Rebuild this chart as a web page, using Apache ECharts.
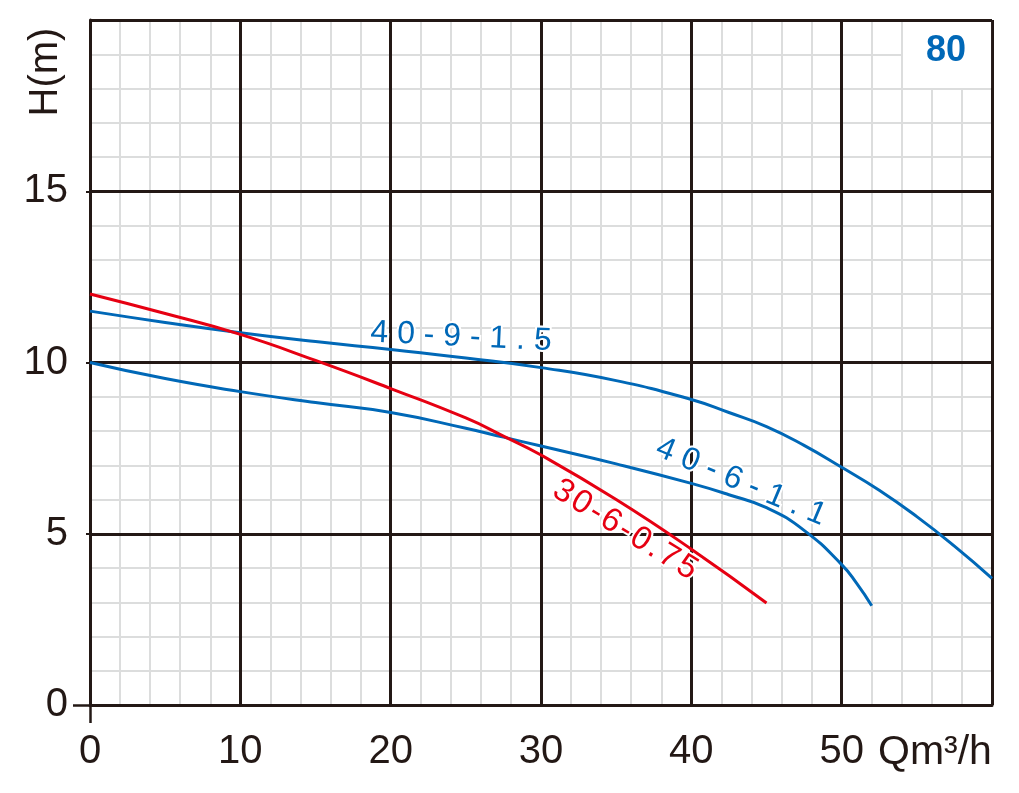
<!DOCTYPE html>
<html><head><meta charset="utf-8">
<script src="https://cdn.jsdelivr.net/npm/echarts@6/dist/echarts.min.js"></script>
<style>html,body{margin:0;padding:0;background:#fff}#c{width:1019px;height:793px}</style>
</head><body><div id="c"></div>
<script>
// Data
const flowQ_409 = [0, 5, 10, 15, 20, 25, 30, 35, 40, 42.5, 45, 47.5, 50, 52.5, 55, 57.5, 60];
const head_409  = [11.5, 11.17, 10.87, 10.61, 10.38, 10.13, 9.85, 9.47, 8.92, 8.54, 8.13, 7.58, 6.94, 6.27, 5.5, 4.64, 3.7];
const flowQ_406 = [0, 5, 10, 15, 20, 25, 27.5, 30, 35, 40, 42.5, 45, 47.5, 50, 51, 52];
const head_406  = [10, 9.53, 9.15, 8.83, 8.54, 8.08, 7.82, 7.56, 7.04, 6.47, 6.14, 5.76, 5.1, 4.1, 3.55, 2.9];
const flowQ_306 = [0, 5, 10, 15, 20, 25, 27.5, 30, 35, 40, 45];
const head_306  = [12, 11.43, 10.82, 10.06, 9.24, 8.38, 7.85, 7.3, 6.0, 4.55, 2.98];
const xTickLabels = [0, 10, 20, 30, 40, 50];
const yTickLabels = [0, 5, 10, 15];
const seriesNames = ['40-9-1.5', '40-6-1.1', '30-6-0.75'];
const curveLabels = ['4 0 - 9 - 1 . 5', '4 0 - 6 - 1 . 1', '3\u200A0\u200A-\u200A6\u200A-\u200A0\u200A.\u200A7\u200A5'];
const modelText = '80';
const xUnit = 'Qm\u00B3/h';
const yUnit = 'H(m)';

const BLUE = '#0068b7', RED = '#e60012', INK = '#231815', MINOR = '#dcdddd';
const FONT = '"Liberation Sans", Arial, sans-serif';

function pairs(xs, ys) { return xs.map((x, i) => [x, ys[i]]); }

const chart = echarts.init(document.getElementById('c'), null, { renderer: 'canvas' });
const gridBox = { left: 90, right: 27, top: 20, bottom: 88 };

chart.setOption({
  animation: false,
  backgroundColor: '#fff',
  title: {
    text: modelText, left: 903, top: 22,
    backgroundColor: '#fff', padding: [11, 25, 19, 23],
    textStyle: { color: BLUE, fontSize: 36, fontWeight: 'bold', fontFamily: FONT }
  },
  grid: Object.assign({ containLabel: false }, gridBox),
  xAxis: [
    { // minor grid + labels
      type: 'value', min: 0, max: 60, interval: 10, z: 0, position: 'bottom',
      axisLine: { show: false, onZero: false },
      axisTick: { show: false },
      splitLine: { show: false },
      minorTick: { show: false, splitNumber: 5 },
      minorSplitLine: { show: true, lineStyle: { color: MINOR, width: 2 } },
      axisLabel: {
        margin: 27, color: INK, fontSize: 40, fontFamily: FONT,
        formatter: v => xTickLabels.includes(v) ? String(v) : ''
      }
    },
    { // major grid + axis line
      type: 'value', min: 0, max: 60, interval: 10, z: 1, position: 'bottom',
      axisLine: { show: true, onZero: false, lineStyle: { color: INK, width: 3 } },
      axisTick: { show: false },
      axisLabel: { show: false },
      splitLine: { show: true, lineStyle: { color: INK, width: 3 } }
    },
    { // origin extension tick
      type: 'value', min: 0, max: 60, z: 1, position: 'bottom',
      axisLine: { show: false, onZero: false },
      axisLabel: { show: false }, splitLine: { show: false },
      axisTick: { show: true, customValues: [0], length: 18, lineStyle: { color: INK, width: 2.5 } }
    }
  ],
  yAxis: [
    {
      type: 'value', min: 0, max: 20, interval: 5, z: 0, position: 'left',
      axisLine: { show: false, onZero: false },
      axisTick: { show: false },
      splitLine: { show: false },
      minorTick: { show: false, splitNumber: 5 },
      minorSplitLine: { show: true, lineStyle: { color: MINOR, width: 2 } },
      axisLabel: {
        margin: 22, color: INK, fontSize: 40, fontFamily: FONT,
        formatter: v => yTickLabels.includes(v) ? String(v) : ''
      }
    },
    {
      type: 'value', min: 0, max: 20, interval: 5, z: 1, position: 'left',
      axisLine: { show: true, onZero: false, lineStyle: { color: INK, width: 3 } },
      axisTick: { show: false },
      axisLabel: { show: false },
      splitLine: { show: true, lineStyle: { color: INK, width: 3 } }
    },
    {
      type: 'value', min: 0, max: 20, z: 1, position: 'left',
      axisLine: { show: false, onZero: false },
      axisLabel: { show: false }, splitLine: { show: false },
      axisTick: { show: true, customValues: [0], length: 17, lineStyle: { color: INK, width: 2.5 } }
    },
    {
      type: 'value', min: 0, max: 20, z: 1, position: 'left',
      axisLine: { show: false, onZero: false },
      axisLabel: { show: false }, splitLine: { show: false },
      axisTick: { show: true, customValues: [5, 10, 15], length: 4, lineStyle: { color: INK, width: 2 } }
    }
  ],
  series: [
    { name: seriesNames[0], type: 'line', data: pairs(flowQ_409, head_409), smooth: 0.5,
      showSymbol: false, z: 3, lineStyle: { color: BLUE, width: 3 } },
    { name: seriesNames[1], type: 'line', data: pairs(flowQ_406, head_406), smooth: 0.5,
      showSymbol: false, z: 3, lineStyle: { color: BLUE, width: 3 } },
    { name: seriesNames[2], type: 'line', data: pairs(flowQ_306, head_306), smooth: 0.5,
      showSymbol: false, z: 4, lineStyle: { color: RED, width: 3 } }
  ],
  graphic: [
    { type: 'text', x: 461, y: 337, rotation: -0.047, z: 10,
      style: { text: curveLabels[0], fill: BLUE, font: '32px ' + FONT, align: 'center', verticalAlign: 'middle',
               stroke: '#fff', lineWidth: 4 } },
    { type: 'text', x: 741, y: 482, rotation: -0.40, z: 10,
      style: { text: curveLabels[1], fill: BLUE, font: '32px ' + FONT, align: 'center', verticalAlign: 'middle',
               stroke: '#fff', lineWidth: 4 } },
    { type: 'text', x: 625, y: 530, rotation: -0.55, z: 10,
      style: { text: curveLabels[2], fill: RED, font: '33px ' + FONT, align: 'center', verticalAlign: 'middle',
               stroke: '#fff', lineWidth: 4 } },
    { type: 'text', x: 878, y: 753, z: 10,
      style: { text: xUnit, fill: INK, font: '41px ' + FONT, align: 'left', verticalAlign: 'middle' } },
    { type: 'text', x: 46, y: 72, rotation: Math.PI / 2, z: 10,
      style: { text: yUnit, fill: INK, font: '40px ' + FONT, align: 'center', verticalAlign: 'middle' } }
  ]
});
</script>
</body></html>
